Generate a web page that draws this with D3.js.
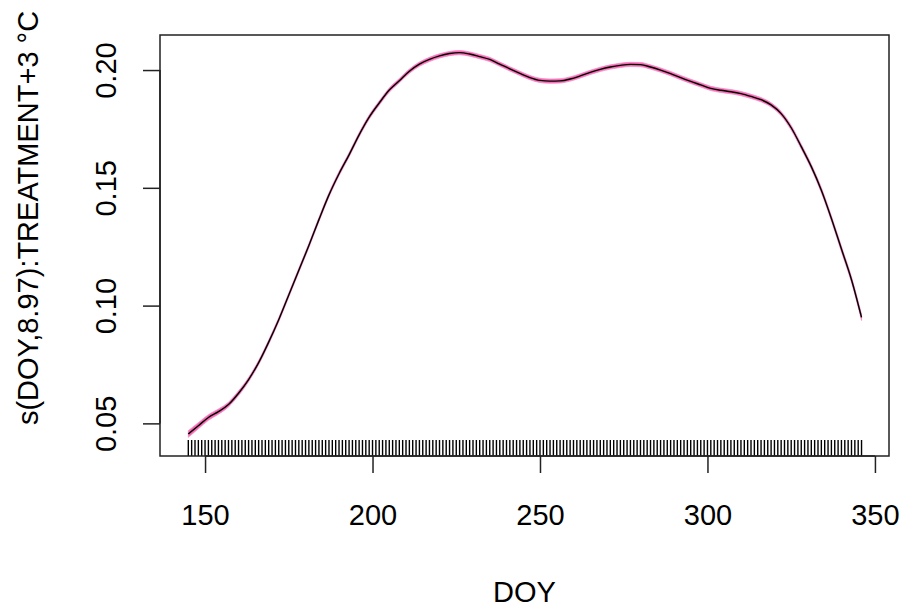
<!DOCTYPE html>
<html>
<head>
<meta charset="utf-8">
<script src="https://cdn.jsdelivr.net/npm/d3@7"></script>
<style>
  html, body { margin: 0; padding: 0; background: #fff; }
  svg { display: block; }
  text { font-family: "Liberation Sans", Arial, Helvetica, sans-serif; fill: #000; }
</style>
</head>
<body>
<svg id="chart" width="905" height="611"></svg>
<script>
// ---- data ----
const doy = [145,148,151,154,157,160,163,166,169,172,175,178,181,184,187,190,193,196,199,202,
             205,208,211,214,217,220,223,226,229,232,235,238,241,244,247,250,253,256,259,262,
             265,268,271,274,277,280,283,286,289,292,295,298,301,304,307,310,313,316,319,322,
             325,328,331,334,337,340,343,346];
const fit = [0.0455,0.0490,0.0525,0.0550,0.0580,0.0628,0.0686,0.0758,0.0845,0.0940,
             0.1045,0.1150,0.1255,0.1365,0.1470,0.1560,0.1640,0.1725,0.1800,0.1860,
             0.1915,0.1955,0.1995,0.2025,0.2045,0.2060,0.2070,0.2074,0.2068,0.2057,
             0.2045,0.2025,0.2005,0.1986,0.1968,0.1956,0.1953,0.1954,0.1962,0.1975,
             0.1990,0.2003,0.2013,0.2020,0.2024,0.2023,0.2013,0.2000,0.1985,0.1968,
             0.1952,0.1937,0.1922,0.1914,0.1908,0.1900,0.1888,0.1874,0.1852,0.1815,
             0.1755,0.1675,0.1590,0.1490,0.1370,0.1240,0.1110,0.0950];
const se = [0.0014,0.0013,0.0012,0.0011,0.0010,0.0010,0.0009,0.0009,0.0009,0.0009,
            0.0009,0.0009,0.0009,0.0009,0.0009,0.0009,0.0009,0.0009,0.0009,0.0009,
            0.0009,0.0009,0.0009,0.0009,0.0009,0.0009,0.0009,0.0009,0.0009,0.0009,
            0.0009,0.0009,0.0009,0.0009,0.0009,0.0009,0.0009,0.0009,0.0009,0.0009,
            0.0009,0.0009,0.0009,0.0009,0.0009,0.0009,0.0009,0.0009,0.0009,0.0009,
            0.0009,0.0009,0.0009,0.0009,0.0009,0.0009,0.0009,0.0009,0.0009,0.0009,
            0.0010,0.0010,0.0010,0.0011,0.0011,0.0012,0.0012,0.0013];
const rugDoy = [145,146,147,148,149,150,151,152,153,154,155,156,157,158,159,160,161,162,163,164,
  165,166,167,168,169,170,171,172,173,174,175,176,177,178,179,180,181,182,183,184,185,186,187,188,
  189,190,191,192,193,194,195,196,197,198,199,200,201,202,203,204,205,206,207,208,209,210,211,212,
  213,214,215,216,217,218,219,220,221,222,223,224,225,226,227,228,229,230,231,232,233,234,235,236,
  237,238,239,240,241,242,243,244,245,246,247,248,249,250,251,252,253,254,255,256,257,258,259,260,
  261,262,263,264,265,266,267,268,269,270,271,272,273,274,275,276,277,278,279,280,281,282,283,284,
  285,286,287,288,289,290,291,292,293,294,295,296,297,298,299,300,301,302,303,304,305,306,307,308,
  309,310,311,312,313,314,315,316,317,318,319,320,321,322,323,324,325,326,327,328,329,330,331,332,
  333,334,335,336,337,338,339,340,341,342,343,344,345,346];
const xTicks = [150, 200, 250, 300, 350];
const yTicks = [0.05, 0.10, 0.15, 0.20];
const xTitle = "DOY";
const yTitle = "s(DOY,8.97):TREATMENT+3 °C";

// ---- layout ----
const W = 905, H = 611;
const plot = { left: 160, right: 889, top: 35, bottom: 456 };
const FS = 29;

const x = d3.scaleLinear().domain([136.55, 354.2]).range([plot.left, plot.right]);
const y = d3.scaleLinear().domain([0.03615, 0.21488]).range([plot.bottom, plot.top]);

const svg = d3.select("#chart");
svg.append("rect").attr("width", W).attr("height", H).attr("fill", "#fff");

const pts = doy.map((d, i) => ({ d, v: fit[i], s: se[i] }));

// confidence band
svg.append("path")
  .datum(pts)
  .attr("fill", "#f569b4")
  .attr("stroke", "#f78cc4")
  .attr("stroke-width", 0.8)
  .attr("d", d3.area()
    .x(p => x(p.d))
    .y0(p => y(p.v - p.s))
    .y1(p => y(p.v + p.s))
    .curve(d3.curveMonotoneX));

// fitted line
svg.append("path")
  .datum(pts)
  .attr("fill", "none")
  .attr("stroke", "#000")
  .attr("stroke-width", 1.4)
  .attr("d", d3.line().x(p => x(p.d)).y(p => y(p.v)).curve(d3.curveMonotoneX));

// rug
svg.append("g").selectAll("line").data(rugDoy).join("line")
  .attr("x1", d => x(d)).attr("x2", d => x(d))
  .attr("y1", plot.bottom).attr("y2", plot.bottom - 16)
  .attr("stroke", "#000").attr("stroke-width", 1.4);

// box
svg.append("rect")
  .attr("x", plot.left).attr("y", plot.top)
  .attr("width", plot.right - plot.left).attr("height", plot.bottom - plot.top)
  .attr("fill", "none").attr("stroke", "#222").attr("stroke-width", 1.5);

// x axis
const xAxis = d3.axisBottom(x).tickValues(xTicks).tickSize(17).tickFormat(d3.format("d"));
const gx = svg.append("g").attr("transform", `translate(0,${plot.bottom})`).call(xAxis);
gx.select(".domain")
  .attr("d", `M${x(xTicks[0])},0H${x(xTicks[xTicks.length - 1])}`)
  .attr("stroke", "#222").attr("stroke-width", 1.5);
gx.selectAll(".tick line").attr("stroke", "#222").attr("stroke-width", 1.5);
gx.selectAll(".tick text")
  .attr("font-size", FS).attr("font-family", "Liberation Sans, Arial, sans-serif").attr("fill", "#000")
  .attr("y", 525 - plot.bottom).attr("dy", null);

// y axis
const yAxis = d3.axisLeft(y).tickValues(yTicks).tickSize(17).tickFormat(d3.format(".2f"));
const gy = svg.append("g").attr("transform", `translate(${plot.left},0)`).call(yAxis);
gy.select(".domain")
  .attr("d", `M0,${y(yTicks[0])}V${y(yTicks[yTicks.length - 1])}`)
  .attr("stroke", "#222").attr("stroke-width", 1.5);
gy.selectAll(".tick line").attr("stroke", "#222").attr("stroke-width", 1.5);
gy.selectAll(".tick text")
  .attr("font-size", FS).attr("font-family", "Liberation Sans, Arial, sans-serif").attr("fill", "#000")
  .attr("x", null).attr("dy", null)
  .attr("text-anchor", "middle")
  .attr("transform", `translate(${116 - plot.left},0) rotate(-90)`);

// titles
svg.append("text")
  .attr("x", (plot.left + plot.right) / 2).attr("y", 602)
  .attr("text-anchor", "middle").attr("font-size", FS)
  .text(xTitle);

svg.append("text")
  .attr("transform", `translate(38,218) rotate(-90)`)
  .attr("text-anchor", "middle").attr("font-size", FS)
  .text(yTitle);
</script>
</body>
</html>
